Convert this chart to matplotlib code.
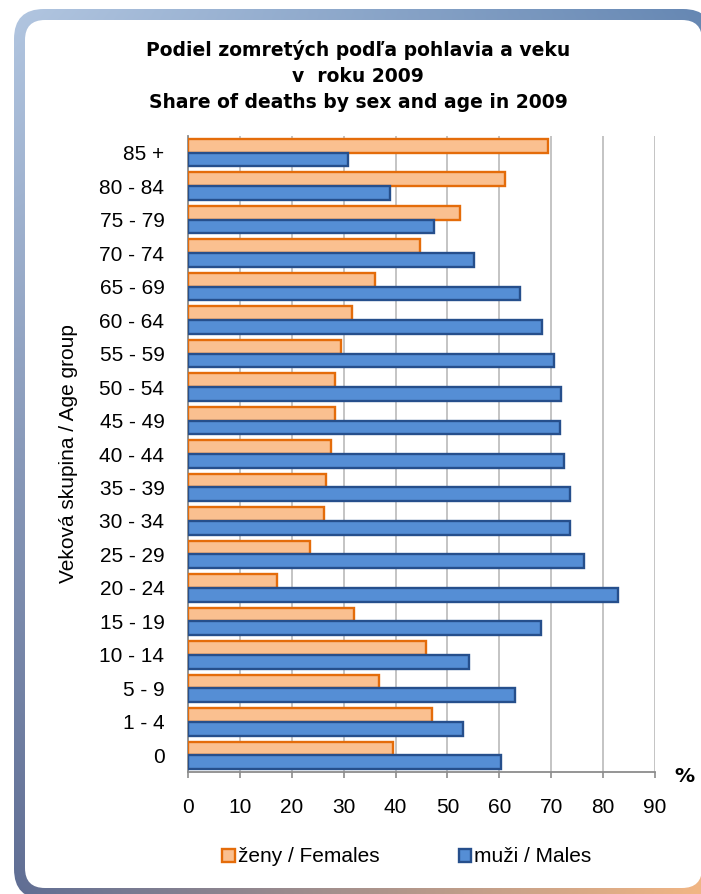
import numpy as np
import matplotlib
matplotlib.use("Agg")
import matplotlib.pyplot as plt
from matplotlib.patches import FancyBboxPatch

# ---- data ----
age_groups = ["0", "1 - 4", "5 - 9", "10 - 14", "15 - 19", "20 - 24", "25 - 29",
              "30 - 34", "35 - 39", "40 - 44", "45 - 49", "50 - 54", "55 - 59",
              "60 - 64", "65 - 69", "70 - 74", "75 - 79", "80 - 84", "85 +"]
females = [39.6, 47.0, 36.9, 45.9, 32.0, 17.1, 23.6, 26.2, 26.5, 27.6, 28.3,
           28.3, 29.5, 31.7, 36.0, 44.8, 52.5, 61.0, 69.4]
males = [60.4, 53.0, 63.1, 54.1, 68.0, 82.9, 76.4, 73.7, 73.6, 72.4, 71.7,
         71.8, 70.5, 68.3, 64.0, 55.2, 47.5, 39.0, 30.9]
x_ticks = [0, 10, 20, 30, 40, 50, 60, 70, 80, 90]
title = "Podiel zomretých podľa pohlavia a veku\nv  roku 2009\nShare of deaths by sex and age in 2009"
ylabel = "Veková skupina / Age group"
label_f = "ženy / Females"
label_m = "muži / Males"

W, H = 701, 894
fig = plt.figure(figsize=(W / 100, H / 100), dpi=100)
fig.patch.set_facecolor("white")

# ---- decorative frame ----
bg = fig.add_axes([0, 0, 1, 1], zorder=-5)
bg.set_xlim(0, W)
bg.set_ylim(H, 0)
bg.axis("off")
tl = np.array([180, 200, 226]) / 255
tr = np.array([100, 135, 180]) / 255
bl = np.array([92, 108, 148]) / 255
br = np.array([242, 182, 132]) / 255
u = np.linspace(0, 1, W)[None, :, None]
v = np.linspace(0, 1, H)[:, None, None]
grad = (1 - u) * (1 - v) * tl + u * (1 - v) * tr + (1 - u) * v * bl + u * v * br
outer = FancyBboxPatch((14, 9), 699, 890, boxstyle="round,pad=0,rounding_size=30",
                       transform=bg.transData, facecolor="none", edgecolor="none")
bg.add_patch(outer)
im = bg.imshow(grad, extent=(0, W, H, 0), aspect="auto", zorder=0)
im.set_clip_path(outer)
inner = FancyBboxPatch((25, 20), 677, 868, boxstyle="round,pad=0,rounding_size=20",
                       transform=bg.transData, facecolor="white", edgecolor="none", zorder=1)
bg.add_patch(inner)

# ---- chart ----
lab_font = "Liberation Sans"
fs = 15
ax = fig.add_axes([188 / W, 1 - 772 / H, (655 - 188) / W, (772 - 136) / H])
ax.set_facecolor("none")
y = np.arange(len(age_groups))
h = 0.41
bf = ax.barh(y + h / 2, females, height=h, color="#FAC090", edgecolor="#E46C0A",
             linewidth=1.7, zorder=3, label=label_f)
bm = ax.barh(y - h / 2, males, height=h, color="#558ED5", edgecolor="#264F8C",
             linewidth=1.7, zorder=3, label=label_m)
ax.set_xlim(0, 90)
ax.set_ylim(-0.5, len(age_groups) - 0.5)
ax.set_xticks(x_ticks)
ax.set_xticklabels([str(t) for t in x_ticks], fontfamily=lab_font, fontsize=fs)
ax.set_yticks(y)
ax.set_yticklabels(age_groups, fontfamily=lab_font, fontsize=fs)
ax.tick_params(axis="y", length=0, pad=17)
ax.tick_params(axis="x", length=4.5, width=1.2, color="#8C8C8C", pad=14)
ax.grid(axis="x", color="#BFBFBF", linewidth=1.3, zorder=0)
ax.set_axisbelow(True)
for s in ["top", "right"]:
    ax.spines[s].set_visible(False)
for s in ["left", "bottom"]:
    ax.spines[s].set_color("#8C8C8C")
    ax.spines[s].set_linewidth(1.3)

fig.text(68 / W, 1 - 454 / H, ylabel, rotation=90, ha="center", va="center",
         fontfamily=lab_font, fontsize=fs)
fig.text(358 / W, 1 - 76 / H, title, ha="center", va="center", fontweight="bold",
         fontsize=13.5, linespacing=1.45, fontfamily="DejaVu Sans")
fig.text(684 / W, 1 - 777 / H, "%", ha="center", va="center", fontweight="bold",
         fontsize=14.5, fontfamily="DejaVu Sans")

fig.legend(handles=[bf, bm], labels=[label_f, label_m], loc="center",
           bbox_to_anchor=(407 / W, 1 - 857 / H), ncol=2, frameon=False,
           prop={"family": lab_font, "size": fs}, handlelength=0.6,
           handleheight=0.6, handletextpad=0.15, columnspacing=3.8)

fig.savefig("out.png", dpi=100, facecolor="white")
